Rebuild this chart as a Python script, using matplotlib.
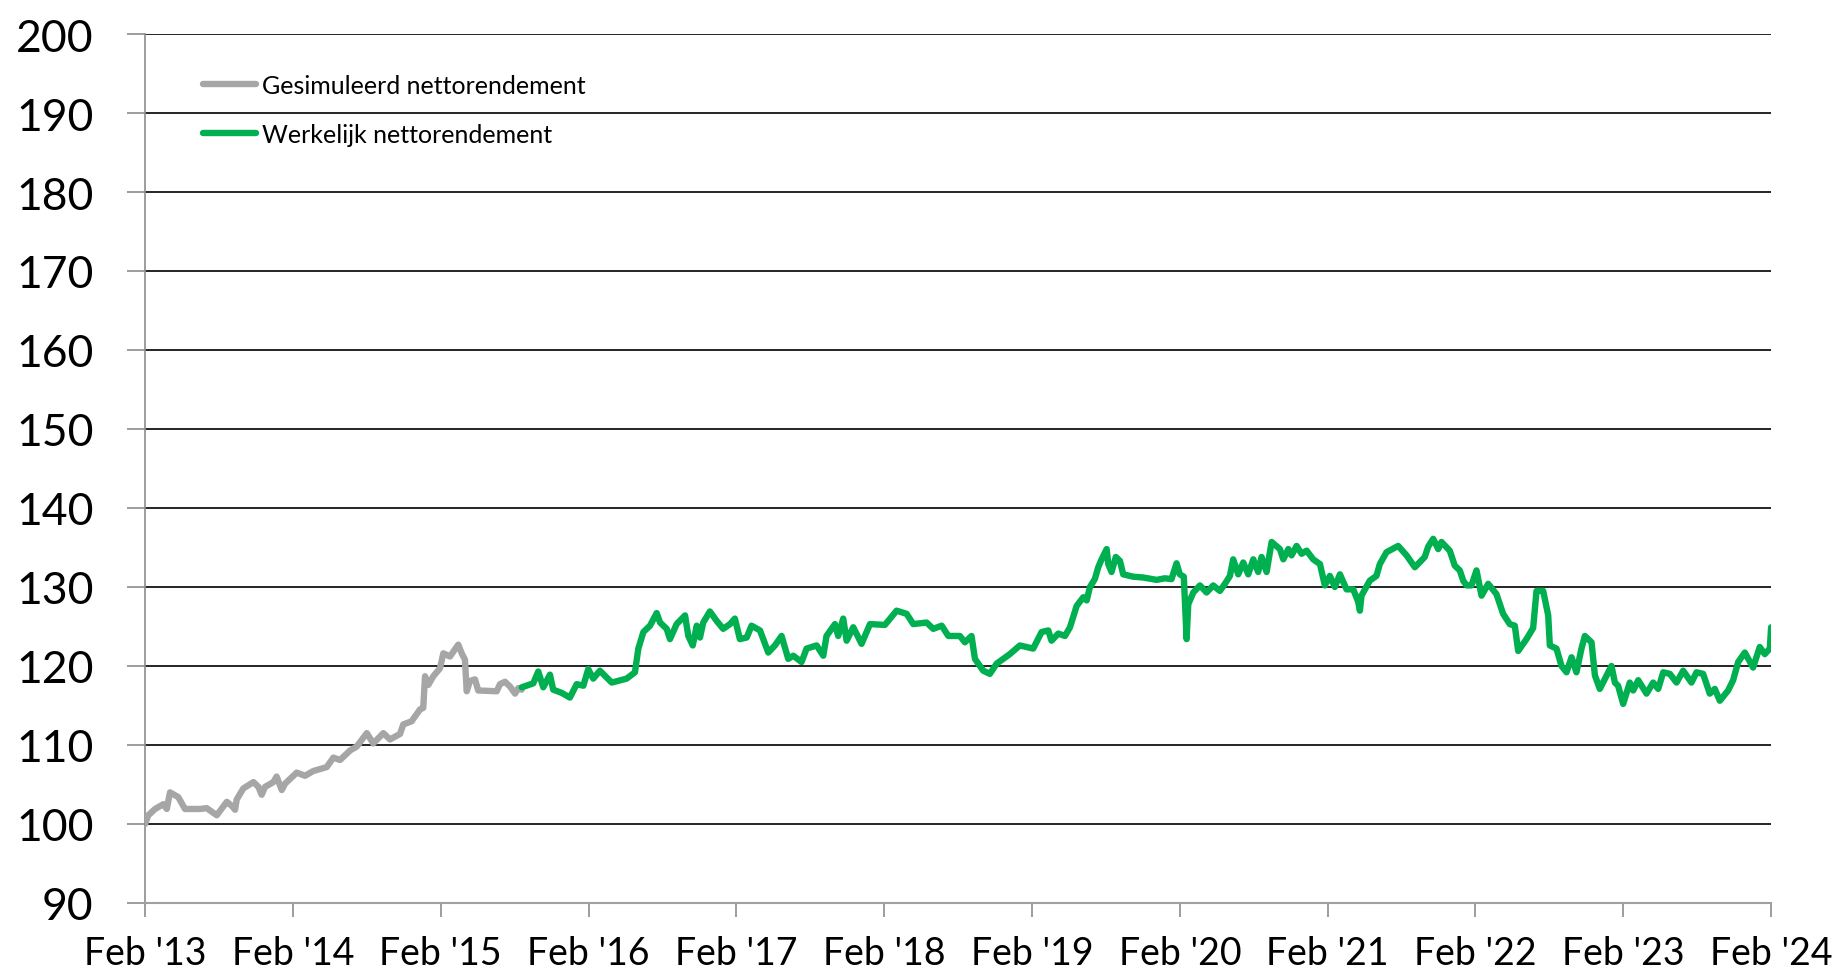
import numpy as np
import matplotlib
matplotlib.use("Agg")
import matplotlib.pyplot as plt

# jaren sinds feb 2013
tick_labels = ["Feb '13", "Feb '14", "Feb '15", "Feb '16", "Feb '17", "Feb '18",
               "Feb '19", "Feb '20", "Feb '21", "Feb '22", "Feb '23", "Feb '24"]

sim_x = [0.0, 0.022, 0.068, 0.124, 0.147, 0.169, 0.225, 0.27, 0.372, 0.417, 0.44,
         0.485, 0.553, 0.586, 0.609, 0.62, 0.665, 0.733, 0.767, 0.789, 0.812, 0.868,
         0.89, 0.925, 0.947, 1.026, 1.082, 1.138, 1.229, 1.274, 1.319, 1.387, 1.432,
         1.5, 1.544, 1.612, 1.657, 1.725, 1.747, 1.803, 1.826, 1.86, 1.882, 1.894,
         1.916, 1.95, 1.995, 2.018, 2.063, 2.085, 2.119, 2.142, 2.164, 2.176, 2.198,
         2.232, 2.254, 2.379, 2.401, 2.435, 2.469, 2.503, 2.525, 2.548]
sim_y = [100.0, 101.1, 101.9, 102.5, 101.9, 104.0, 103.4, 101.9, 101.9, 102.0, 101.7,
         101.1, 102.8, 102.3, 101.8, 103.1, 104.5, 105.3, 104.7, 103.7, 104.7, 105.3,
         106.0, 104.3, 105.1, 106.5, 106.1, 106.7, 107.2, 108.4, 108.1, 109.3, 109.8,
         111.5, 110.2, 111.5, 110.7, 111.4, 112.6, 113.0, 113.6, 114.5, 114.7, 118.7,
         117.6, 118.7, 119.7, 121.6, 121.2, 121.8, 122.7, 121.6, 120.8, 116.8, 118.1,
         118.3, 116.9, 116.8, 117.7, 118.0, 117.4, 116.5, 117.2, 117.0]

real_x = [2.548, 2.626, 2.66, 2.694, 2.739, 2.761, 2.818, 2.874, 2.92, 2.965, 2.998,
          3.032, 3.077, 3.157, 3.258, 3.314, 3.337, 3.371, 3.416, 3.461, 3.484, 3.529,
          3.551, 3.596, 3.653, 3.675, 3.705, 3.732, 3.754, 3.776, 3.821, 3.867, 3.911,
          3.957, 3.99, 4.024, 4.07, 4.103, 4.16, 4.216, 4.261, 4.306, 4.351, 4.385,
          4.441, 4.475, 4.543, 4.588, 4.61, 4.667, 4.689, 4.723, 4.746, 4.791, 4.847,
          4.904, 5.005, 5.084, 5.152, 5.197, 5.287, 5.332, 5.389, 5.434, 5.512, 5.546,
          5.591, 5.614, 5.67, 5.715, 5.761, 5.85, 5.918, 6.008, 6.065, 6.11, 6.132,
          6.178, 6.223, 6.257, 6.302, 6.347, 6.37, 6.392, 6.425, 6.448, 6.471, 6.505,
          6.516, 6.538, 6.567, 6.595, 6.617, 6.685, 6.752, 6.843, 6.899, 6.944, 6.978,
          7.0, 7.027, 7.046, 7.057, 7.091, 7.136, 7.181, 7.226, 7.271, 7.305, 7.339,
          7.361, 7.395, 7.429, 7.463, 7.497, 7.53, 7.553, 7.587, 7.621, 7.677, 7.7,
          7.734, 7.756, 7.79, 7.824, 7.858, 7.902, 7.948, 7.981, 8.015, 8.049, 8.083,
          8.128, 8.173, 8.207, 8.218, 8.229, 8.285, 8.33, 8.353, 8.398, 8.477, 8.534,
          8.59, 8.657, 8.68, 8.714, 8.748, 8.77, 8.826, 8.86, 8.894, 8.917, 8.94,
          8.973, 9.007, 9.041, 9.086, 9.142, 9.187, 9.232, 9.266, 9.289, 9.345, 9.39,
          9.413, 9.458, 9.492, 9.503, 9.548, 9.582, 9.616, 9.65, 9.683, 9.717, 9.74,
          9.785, 9.808, 9.841, 9.887, 9.92, 9.943, 9.965, 9.999, 10.044, 10.067,
          10.101, 10.157, 10.202, 10.236, 10.27, 10.315, 10.36, 10.405, 10.461,
          10.495, 10.54, 10.585, 10.619, 10.653, 10.709, 10.743, 10.777, 10.822,
          10.878, 10.923, 10.957, 10.991, 11.0]
real_y = [117.3, 117.8, 119.3, 117.3, 118.9, 117.0, 116.6, 116.0, 117.7, 117.5, 119.6,
          118.4, 119.4, 117.9, 118.4, 119.2, 122.2, 124.3, 125.1, 126.7, 125.5, 124.7,
          123.4, 125.3, 126.4, 123.8, 122.6, 125.1, 123.6, 125.5, 126.9, 125.7, 124.7,
          125.3, 126.0, 123.4, 123.6, 125.1, 124.5, 121.7, 122.6, 123.8, 120.9, 121.3,
          120.5, 122.2, 122.6, 121.3, 123.8, 125.3, 123.8, 126.0, 123.2, 124.9, 122.8,
          125.3, 125.2, 127.0, 126.6, 125.3, 125.5, 124.7, 125.1, 123.8, 123.8, 123.0,
          123.8, 120.9, 119.4, 119.0, 120.3, 121.5, 122.6, 122.2, 124.3, 124.5, 123.2,
          124.1, 123.8, 124.9, 127.6, 128.7, 128.3, 130.0, 131.0, 132.5, 133.5, 134.8,
          132.9, 131.9, 133.8, 133.3, 131.6, 131.3, 131.2, 130.9, 131.1, 131.0, 133.0,
          131.6, 131.3, 123.4, 127.8, 129.3, 130.2, 129.3, 130.2, 129.5, 130.4, 131.4,
          133.5, 131.6, 133.1, 131.6, 133.5, 131.9, 133.8, 131.9, 135.7, 134.8, 133.5,
          134.8, 134.0, 135.2, 134.2, 134.6, 133.5, 132.9, 130.2, 131.4, 130.0, 131.6,
          129.7, 129.7, 128.1, 127.0, 128.9, 130.8, 131.4, 132.9, 134.4, 135.2, 134.0,
          132.5, 133.8, 135.1, 136.1, 134.8, 135.7, 134.6, 132.7, 132.1, 130.8, 130.2,
          130.2, 132.1, 128.9, 130.4, 129.1, 126.6, 125.3, 125.1, 121.9, 123.4, 124.8,
          129.5, 129.5, 126.4, 122.6, 122.2, 120.0, 119.2, 121.1, 119.2, 122.2, 123.8,
          123.0, 118.8, 117.1, 118.8, 120.0, 117.9, 117.5, 115.2, 117.9, 116.9,
          118.2, 116.5, 117.9, 117.1, 119.2, 119.0, 117.9, 119.4, 117.9,
          119.2, 119.0, 116.5, 117.1, 115.6, 116.9, 118.2, 120.5, 121.7,
          119.8, 122.4, 121.5, 122.2, 124.9]

plt.rcParams["font.family"] = ["Lato", "DejaVu Sans"]

fig = plt.figure(figsize=(18.43, 9.78), dpi=100)
ax = fig.add_axes([0.0787, 0.0757, 0.8823, 0.8885])

for v in range(100, 201, 10):
    ax.axhline(v, color="black", linewidth=1.2, zorder=1)

ax.plot(sim_x, sim_y, color="#A6A6A6", linewidth=4.6, solid_joinstyle="round",
        solid_capstyle="round", label="Gesimuleerd nettorendement", zorder=3)
ax.plot(real_x, real_y, color="#00B050", linewidth=4.6, solid_joinstyle="round",
        solid_capstyle="round", label="Werkelijk nettorendement", zorder=4)

ax.set_xlim(0, 11)
ax.set_ylim(90, 200)
ax.set_xticks(range(len(tick_labels)))
ax.set_xticklabels(tick_labels, fontsize=27)
ax.set_yticks(range(90, 201, 10))
ax.tick_params(axis="y", labelsize=32, length=13, width=1.2, color="#8C8C8C", pad=24)
ax.tick_params(axis="x", length=10, width=1.2, color="#8C8C8C", pad=13)

for s in ["top", "right"]:
    ax.spines[s].set_visible(False)
ax.spines["left"].set_color("#8C8C8C")
ax.spines["left"].set_linewidth(1.2)
ax.spines["bottom"].set_color("#A0A0A0")
ax.spines["bottom"].set_linewidth(1.5)

ax.legend(loc="upper left", bbox_to_anchor=(0.0357, 0.954), frameon=False,
          fontsize=18, handlelength=2.1, handletextpad=0.25, labelspacing=1.05,
          borderpad=0, borderaxespad=0)

fig.savefig("out.png", dpi=100)
